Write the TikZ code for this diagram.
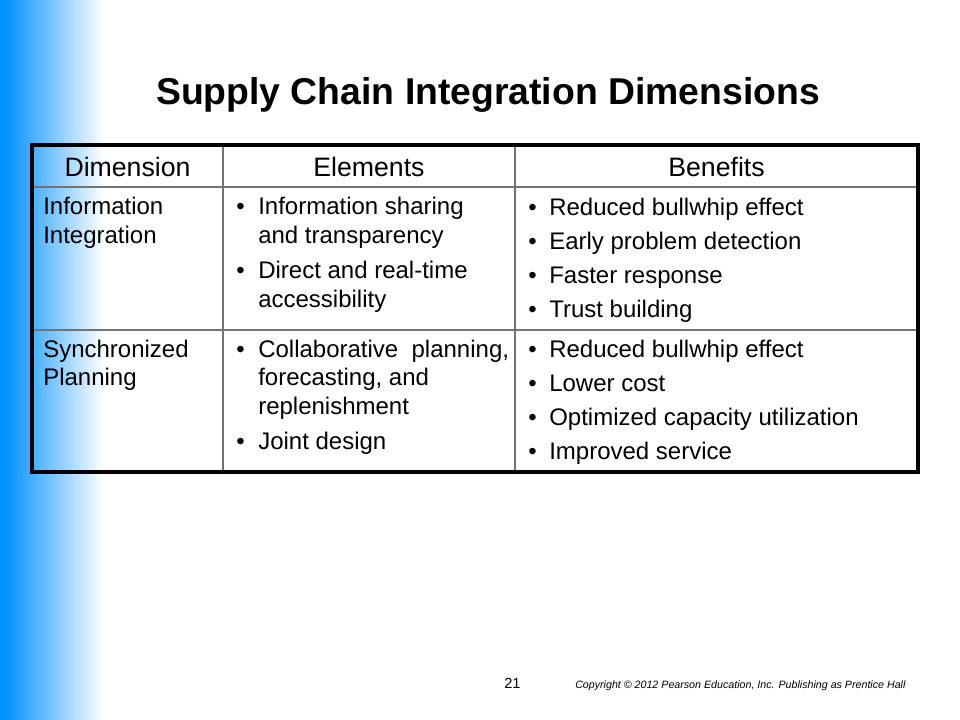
\documentclass[tikz,border=0pt]{standalone}
\usepackage{fontspec}
\setmainfont{Liberation Sans}
\definecolor{slideblue}{RGB}{0,144,255}
\definecolor{gridgray}{RGB}{115,115,115}
\begin{document}
\begin{tikzpicture}[x=0.75pt,y=-0.75pt,
  titletext/.style={anchor=base,inner sep=0pt,font=\bfseries\fontsize{28}{34}\selectfont},
  headtext/.style={anchor=base,inner sep=0pt,font=\fontsize{20}{24}\selectfont},
  bodytext/.style={anchor=base west,inner sep=0pt,font=\fontsize{18}{21}\selectfont},
  bulletmark/.style={anchor=base west,inner sep=0pt,font=\fontsize{18}{21}\selectfont},
  pagenum/.style={anchor=base west,inner sep=0pt,font=\fontsize{11}{13}\selectfont},
  copytext/.style={anchor=base west,inner sep=0pt,font=\itshape\fontsize{8}{10}\selectfont},
  outerline/.style={line width=2.4pt,black},
  innerline/.style={line width=1.2pt,gridgray}]

\useasboundingbox (0,0) rectangle (960,720);
\fill[white] (0,0) rectangle (960,720);
\fill[slideblue] (0,0) rectangle (4,720);
\foreach \i in {0,...,99} {
  \pgfmathtruncatemacro\pct{100-\i}
  \fill[slideblue!\pct!white] (4+\i,0) rectangle (5.2+\i,720);
}

% title
\node[titletext] (title) at (488,105) {Supply Chain Integration Dimensions};

% table grid
\draw[innerline] (32,187) -- (918,187);
\draw[innerline] (32,330) -- (918,330);
\draw[innerline] (223,145) -- (223,472);
\draw[innerline] (515,145) -- (515,472);
\draw[outerline] (32,145) rectangle (918,472);

% header
\node[headtext] (hdim) at (127.5,177) {Dimension};
\node[headtext] (hele) at (369,177) {Elements};
\node[headtext] (hben) at (716.5,177) {Benefits};

% row 1, column 1
\node[bodytext] (r1c1a) at (43,215) {Information};
\node[bodytext] (r1c1b) at (43,243.5) {Integration};

% row 1, column 2
\node[bulletmark] (r1c2b1) at (236,215) {•};
\node[bodytext] (r1c2a) at (258,215) {Information sharing};
\node[bodytext] (r1c2b) at (258,243.5) {and transparency};
\node[bulletmark] (r1c2b2) at (236,279) {•};
\node[bodytext] (r1c2c) at (258,279) {Direct and real-time};
\node[bodytext] (r1c2d) at (258,307.5) {accessibility};

% row 1, column 3
\node[bulletmark] (r1c3b1) at (528,215.5) {•};
\node[bodytext] (r1c3a) at (549,215.5) {Reduced bullwhip effect};
\node[bulletmark] (r1c3b2) at (528,249.5) {•};
\node[bodytext] (r1c3b) at (549,249.5) {Early problem detection};
\node[bulletmark] (r1c3b3) at (528,283.5) {•};
\node[bodytext] (r1c3c) at (549,283.5) {Faster response};
\node[bulletmark] (r1c3b4) at (528,317.5) {•};
\node[bodytext] (r1c3d) at (549,317.5) {Trust building};

% row 2, column 1
\node[bodytext] (r2c1a) at (43,357) {Synchronized};
\node[bodytext] (r2c1b) at (43,385.5) {Planning};

% row 2, column 2
\node[bulletmark] (r2c2b1) at (236,357) {•};
\node[bodytext] (r2c2a) at (258,357) {Collaborative\hspace{10pt}planning,};
\node[bodytext] (r2c2b) at (258,385.5) {forecasting, and};
\node[bodytext] (r2c2c) at (258,414) {replenishment};
\node[bulletmark] (r2c2b2) at (236,449.5) {•};
\node[bodytext] (r2c2d) at (258,449.5) {Joint design};

% row 2, column 3
\node[bulletmark] (r2c3b1) at (528,357.5) {•};
\node[bodytext] (r2c3a) at (549,357.5) {Reduced bullwhip effect};
\node[bulletmark] (r2c3b2) at (528,391.5) {•};
\node[bodytext] (r2c3b) at (549,391.5) {Lower cost};
\node[bulletmark] (r2c3b3) at (528,425.5) {•};
\node[bodytext] (r2c3c) at (549,425.5) {Optimized capacity utilization};
\node[bulletmark] (r2c3b4) at (528,459.5) {•};
\node[bodytext] (r2c3d) at (549,459.5) {Improved service};

% footer
\node[pagenum] (pnum) at (504,688) {21};
\node[copytext] (copy) at (575,688) {Copyright © 2012 Pearson Education, Inc. Publishing as Prentice Hall};
\end{tikzpicture}
\end{document}
